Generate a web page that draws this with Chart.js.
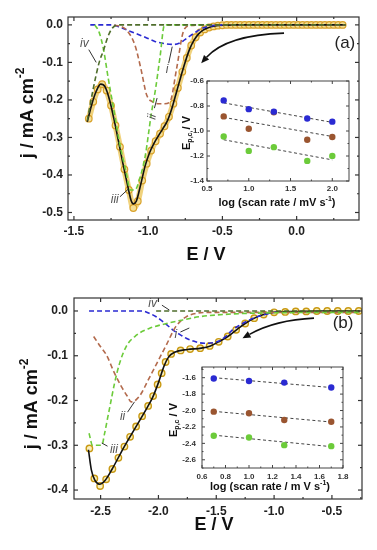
<!DOCTYPE html>
<html><head><meta charset="utf-8">
<script src="https://cdn.jsdelivr.net/npm/chart.js@4.4.1/dist/chart.umd.min.js"></script>
<style>
html,body{margin:0;padding:0;background:#fff;}
#wrap{position:relative;width:377px;height:550px;overflow:hidden;background:#fff;}
#wrap canvas{position:absolute;}
</style></head><body>
<div id="wrap">
<canvas id="ca" width="377" height="275" style="left:0;top:0"></canvas>
<canvas id="cb" width="377" height="275" style="left:0;top:275px"></canvas>
<canvas id="ia" width="195" height="150" style="left:165px;top:70px"></canvas>
<canvas id="ib" width="200" height="145" style="left:160px;top:355px"></canvas>
</div>
<script>
// ---------------- Panel (a) data ----------------
const aFitE = [-1.41,-1.38,-1.35,-1.32,-1.29,-1.26,-1.23,-1.20,-1.17,-1.14,-1.115,-1.10,-1.08,-1.05,-1.02,-0.99,-0.96,-0.93,-0.90,-0.87,-0.84,-0.81,-0.78,-0.75,-0.72,-0.69,-0.66,-0.63,-0.60,-0.55,-0.50,-0.40,0.0,0.33];
const aFitJ = [-0.258,-0.212,-0.177,-0.158,-0.165,-0.200,-0.252,-0.310,-0.370,-0.425,-0.468,-0.477,-0.470,-0.425,-0.375,-0.340,-0.315,-0.295,-0.276,-0.255,-0.222,-0.180,-0.138,-0.098,-0.064,-0.040,-0.024,-0.014,-0.008,-0.003,-0.001,0,0,0];
const aExpE = [-1.40,-1.37,-1.34,-1.31,-1.28,-1.25,-1.22,-1.19,-1.16,-1.13,-1.10,-1.07,-1.04,-1.01,-0.98,-0.95,-0.92,-0.89,-0.86,-0.83,-0.80,-0.77,-0.74,-0.71,-0.68,-0.65,-0.62,-0.59,-0.56,-0.53,-0.50,-0.47,-0.44,-0.41,-0.38,-0.35,-0.32,-0.29,-0.26,-0.23,-0.20,-0.17,-0.14,-0.11,-0.08,-0.05,-0.02,0.01,0.04,0.07,0.10,0.13,0.16,0.19,0.22,0.25,0.28,0.31];
const aExpJ = [-0.250,-0.205,-0.172,-0.158,-0.175,-0.215,-0.268,-0.325,-0.385,-0.440,-0.488,-0.470,-0.415,-0.370,-0.335,-0.310,-0.290,-0.270,-0.245,-0.210,-0.168,-0.125,-0.088,-0.055,-0.033,-0.020,-0.012,-0.007,-0.004,-0.002,-0.001,0,0,0,0,0,0,0,0,0,0,0,0,0,0,0,0,0,0,0,0,0,0,0,0,0,0,0];
const aIE = [-1.39,-1.25,-1.18,-1.09,-1.02,-0.955,-0.89,-0.82,-0.785,-0.755,-0.72,-0.69,-0.64,-0.58,-0.50];
const aIJ = [0,0,-0.008,-0.022,-0.033,-0.044,-0.050,-0.052,-0.048,-0.040,-0.030,-0.022,-0.010,-0.003,0];
const aIIE = [-1.23,-1.15,-1.09,-1.05,-1.01,-0.97,-0.93,-0.89,-0.853,-0.81,-0.763,-0.72,-0.60,0.33];
const aIIJ = [0,-0.012,-0.053,-0.115,-0.187,-0.205,-0.210,-0.210,-0.205,-0.120,-0.018,-0.002,0,0];
const aIIIE = [-1.36,-1.33,-1.30,-1.27,-1.23,-1.19,-1.15,-1.12,-1.09,-1.05,-1.02,-0.98,-0.95,-0.92,-0.89,-0.60];
const aIIIJ = [0,-0.020,-0.067,-0.140,-0.230,-0.320,-0.390,-0.440,-0.440,-0.400,-0.350,-0.240,-0.170,-0.085,0,0];
const aIVE = [-1.41,-1.37,-1.33,-1.30,-1.27,-1.24,-1.20,0.33];
const aIVJ = [-0.255,-0.170,-0.100,-0.067,-0.030,-0.008,0,0];
const aXTicks = [-1.5,-1.0,-0.5,0.0];
const aYTicks = [0.0,-0.1,-0.2,-0.3,-0.4,-0.5];

// ---------------- Panel (b) data ----------------
const bFitE = [-2.605,-2.58,-2.55,-2.51,-2.46,-2.40,-2.30,-2.20,-2.10,-2.05,-2.00,-1.95,-1.91,-1.86,-1.75,-1.63,-1.55,-1.48,-1.40,-1.32,-1.25,-1.17,-1.09,-1.00,-0.80,-0.60,-0.26];
const bFitJ = [-0.310,-0.355,-0.378,-0.387,-0.378,-0.353,-0.305,-0.261,-0.217,-0.193,-0.160,-0.122,-0.102,-0.092,-0.086,-0.083,-0.078,-0.069,-0.057,-0.041,-0.028,-0.016,-0.008,-0.003,-0.001,0,0];
const bExpE = [-2.597,-2.554,-2.504,-2.452,-2.398,-2.346,-2.294,-2.245,-2.193,-2.141,-2.089,-2.046,-2.007,-1.972,-1.938,-1.89,-1.808,-1.726,-1.639,-1.557,-1.479,-1.401,-1.328,-1.25,-1.172,-1.09,-1.0,-0.904,-0.813,-0.722,-0.631,-0.541,-0.45,-0.359,-0.268];
const bExpJ = [-0.307,-0.374,-0.391,-0.376,-0.353,-0.328,-0.303,-0.281,-0.258,-0.235,-0.212,-0.190,-0.164,-0.139,-0.114,-0.096,-0.088,-0.085,-0.083,-0.078,-0.069,-0.057,-0.042,-0.028,-0.016,-0.008,-0.003,-0.002,-0.001,-0.001,0,0,0,0,0];
const bIE = [-2.60,-2.14,-2.08,-2.02,-1.95,-1.877,-1.80,-1.76,-1.70,-1.647,-1.60,-1.56,-1.51,-1.46,-1.41,-1.36,-1.30,-1.244,-1.17,-1.10,-1.02,-0.95];
const bIJ = [0,0,-0.005,-0.013,-0.026,-0.042,-0.055,-0.061,-0.067,-0.071,-0.072,-0.072,-0.070,-0.065,-0.055,-0.042,-0.032,-0.024,-0.015,-0.009,-0.004,0];
const bIIE = [-2.56,-2.50,-2.45,-2.38,-2.32,-2.27,-2.235,-2.20,-2.15,-2.10,-2.05,-2.00,-1.93,-1.85,-1.76,-1.67,-1.55,-0.26];
const bIIJ = [-0.057,-0.080,-0.098,-0.139,-0.169,-0.190,-0.203,-0.200,-0.185,-0.160,-0.135,-0.110,-0.075,-0.035,-0.013,-0.005,-0.003,-0.003];
const bIIIE = [-2.60,-2.57,-2.53,-2.49,-2.465,-2.44,-2.42,-2.38,-2.336,-2.28,-2.19,-2.08,-1.93,-1.79,-1.65,-1.50,-1.30,-1.00,-0.26];
const bIIIJ = [-0.273,-0.300,-0.300,-0.300,-0.273,-0.240,-0.214,-0.162,-0.117,-0.080,-0.054,-0.039,-0.028,-0.020,-0.013,-0.009,-0.006,-0.004,-0.003];
const bIVE = [-2.02,-0.26];
const bIVJ = [0,0];
const bXTicks = [-2.5,-2.0,-1.5,-1.0,-0.5];
const bYTicks = [0.0,-0.1,-0.2,-0.3,-0.4];

// ---------------- Inset (a) data ----------------
const iaLogRate = [0.7,1.0,1.3,1.7,2.0];
const iaBlue  = [-0.755,-0.825,-0.845,-0.900,-0.925];
const iaBrown = [-0.883,-0.982,-0.850,-1.070,-1.048];
const iaGreen = [-1.044,-1.159,-1.129,-1.239,-1.199];
const iaFitX = [0.7,2.0];
const iaBlueFit  = [-0.775,-0.931];
const iaBrownFit = [-0.891,-1.044];
const iaGreenFit = [-1.070,-1.231];
const iaXTicks = [0.5,1.0,1.5,2.0];
const iaYTicks = [-0.6,-0.8,-1.0,-1.2,-1.4];

// ---------------- Inset (b) data ----------------
const ibLogRate = [0.7,1.0,1.3,1.7];
const ibBlue  = [-1.610,-1.640,-1.660,-1.720];
const ibBrown = [-2.014,-2.034,-2.116,-2.137];
const ibGreen = [-2.308,-2.328,-2.422,-2.434];
const ibFitX = [0.7,1.7];
const ibBlueFit  = [-1.600,-1.720];
const ibBrownFit = [-2.010,-2.140];
const ibGreenFit = [-2.300,-2.440];
const ibXTicks = [0.6,0.8,1.0,1.2,1.4,1.6,1.8];
const ibYTicks = [-1.6,-1.8,-2.0,-2.2,-2.4,-2.6];

// ---------------- helpers ----------------
const FONT = "'Liberation Sans', Arial, Helvetica, sans-serif";
const fnt = (style, size) => `${style} ${size}px ${FONT}`;
const pts = (xs, ys) => xs.map((x, i) => ({x: x, y: ys[i]}));
const C_BLUE = '#2a2ad2', C_BROWN = '#b36a4c', C_GREEN = '#6ccb3a', C_OLIVE = '#4f6e2c';

function partFont(p, size) {
  const s = (p.sup || p.sub) ? Math.round(size * 0.68) : size;
  return fnt(p.style || 'bold', s);
}
function drawRich(c, parts, cx, cy, size, rot, color) {
  c.save();
  c.translate(cx, cy); c.rotate(rot || 0);
  c.fillStyle = color || '#111'; c.textBaseline = 'middle'; c.textAlign = 'left';
  let w = 0;
  parts.forEach(p => { c.font = partFont(p, size); w += c.measureText(p.t).width; });
  let x = -w / 2;
  parts.forEach(p => {
    c.font = partFont(p, size);
    const dy = p.sup ? -size * 0.38 : (p.sub ? size * 0.32 : 0);
    c.fillText(p.t, x, dy);
    x += c.measureText(p.t).width;
  });
  c.restore();
}

const DECO = {
  ca: {
    frameColor: '#333', frameWidth: 1.2, tickLen: 4, minorLen: 2,
    titles: [
      {parts: [{t: 'E / V'}], x: 206, y: 255, size: 18, rot: 0},
      {parts: [{t: 'j / mA cm'}, {t: '-2', sup: true}], x: 28, y: 113, size: 18, rot: -Math.PI / 2}
    ],
    labels: [
      {t: 'iv', x: -1.43, y: -0.05}, {t: 'iii', x: -1.225, y: -0.467},
      {t: 'ii', x: -0.972, y: -0.245, rot: -80}, {t: 'i', x: -0.872, y: -0.118}
    ],
    pointers: [[-1.40, -0.066, -1.35, -0.10], [-1.19, -0.458, -1.135, -0.438],
               [-0.958, -0.222, -0.940, -0.195], [-0.862, -0.102, -0.838, -0.058]],
    arrow: {from: [-0.085, -0.022], ctrl: [-0.47, -0.027], to: [-0.643, -0.102]},
    tag: {t: '(a)', x: 0.325, y: -0.048, size: 17}
  },
  cb: {
    frameColor: '#333', frameWidth: 1.2, tickLen: 4, minorLen: 2,
    titles: [
      {parts: [{t: 'E / V'}], x: 214, y: 250, size: 18, rot: 0},
      {parts: [{t: 'j / mA cm'}, {t: '-2', sup: true}], x: 32, y: 129, size: 18, rot: -Math.PI / 2}
    ],
    labels: [
      {t: 'iv', x: -2.05, y: 0.016}, {t: 'i', x: -1.85, y: -0.054},
      {t: 'ii', x: -2.31, y: -0.236}, {t: 'iii', x: -2.385, y: -0.31}
    ],
    pointers: [[-1.97, 0.013, -1.905, 0.002], [-1.81, -0.047, -1.733, -0.038],
               [-2.267, -0.226, -2.207, -0.203], [-2.44, -0.302, -2.49, -0.295]],
    arrow: {from: [-0.655, -0.016], ctrl: [-0.99, -0.02], to: [-1.273, -0.061]},
    tag: {t: '(b)', x: -0.404, y: -0.027, size: 17}
  },
  ia: {
    fill: true, frameColor: '#444', frameWidth: 1, tickLen: 3, minorLen: 1.5,
    titles: [
      {parts: [{t: 'E'}, {t: 'p,c', sub: true}, {t: ' / V'}], x: 22, y: 63, size: 11, rot: -Math.PI / 2},
      {parts: [{t: 'log ('}, {t: 'scan rate / mV s'}, {t: '-1', sup: true}, {t: ')'}], x: 112, y: 133, size: 11, rot: 0}
    ]
  },
  ib: {
    fill: true, frameColor: '#444', frameWidth: 1, tickLen: 3, minorLen: 1.5,
    titles: [
      {parts: [{t: 'E'}, {t: 'p,c', sub: true}, {t: ' / V'}], x: 14, y: 65, size: 11, rot: -Math.PI / 2},
      {parts: [{t: 'log ('}, {t: 'scan rate / m V s'}, {t: '-1', sup: true}, {t: ')'}], x: 110, y: 132, size: 11, rot: 0}
    ]
  }
};

const decoPlugin = {
  id: 'deco',
  beforeDraw(chart) {
    const o = DECO[chart.canvas.id];
    if (!o || !o.fill) return;
    const a = chart.chartArea, c = chart.ctx;
    c.save(); c.fillStyle = '#fff';
    c.fillRect(a.left, a.top, a.right - a.left, a.bottom - a.top);
    c.restore();
  },
  afterDraw(chart) {
    const o = DECO[chart.canvas.id];
    if (!o) return;
    const c = chart.ctx, a = chart.chartArea, xs = chart.scales.x, ys = chart.scales.y;
    const X = v => xs.getPixelForValue(v), Y = v => ys.getPixelForValue(v);
    c.save();
    c.strokeStyle = o.frameColor; c.lineWidth = o.frameWidth;
    c.strokeRect(a.left, a.top, a.right - a.left, a.bottom - a.top);
    const line = (x1, y1, x2, y2) => { c.beginPath(); c.moveTo(x1, y1); c.lineTo(x2, y2); c.stroke(); };
    const drawTicks = (scale, horiz) => {
      const vals = scale.ticks.map(t => t.value);
      const lo = Math.min(scale.min, scale.max), hi = Math.max(scale.min, scale.max);
      const minors = [];
      if (vals.length > 1) {
        const step = vals[1] - vals[0];
        for (let i = -1; i < vals.length; i++) {
          const m = vals[0] + step * (i + 0.5);
          if (m >= lo && m <= hi) minors.push(m);
        }
      }
      const seg = (v, L) => {
        const p = scale.getPixelForValue(v);
        if (horiz) { line(p, a.bottom, p, a.bottom - L); line(p, a.top, p, a.top + L); }
        else { line(a.left, p, a.left + L, p); line(a.right, p, a.right - L, p); }
      };
      vals.forEach(v => seg(v, o.tickLen));
      minors.forEach(v => seg(v, o.minorLen));
    };
    drawTicks(xs, true); drawTicks(ys, false);

    (o.pointers || []).forEach(p => {
      c.strokeStyle = '#333'; c.lineWidth = 1;
      line(X(p[0]), Y(p[1]), X(p[2]), Y(p[3]));
    });
    (o.labels || []).forEach(l => {
      c.save();
      c.translate(X(l.x), Y(l.y)); c.rotate((l.rot || 0) * Math.PI / 180);
      c.font = fnt('italic', 12); c.fillStyle = '#555';
      c.textAlign = 'center'; c.textBaseline = 'middle';
      c.fillText(l.t, 0, 0);
      c.restore();
    });
    if (o.arrow) {
      const f = o.arrow.from, k = o.arrow.ctrl, t = o.arrow.to;
      const fx = X(f[0]), fy = Y(f[1]), kx = X(k[0]), ky = Y(k[1]), tx = X(t[0]), ty = Y(t[1]);
      const ang = Math.atan2(ty - ky, tx - kx);
      const L = 8, W = 3.5;
      const bx = tx - L * Math.cos(ang), by = ty - L * Math.sin(ang);
      c.strokeStyle = '#111'; c.lineWidth = 1.6;
      c.beginPath(); c.moveTo(fx, fy); c.quadraticCurveTo(kx, ky, bx, by); c.stroke();
      c.fillStyle = '#111';
      c.beginPath(); c.moveTo(tx, ty);
      c.lineTo(bx + W * Math.sin(ang), by - W * Math.cos(ang));
      c.lineTo(bx - W * Math.sin(ang), by + W * Math.cos(ang));
      c.closePath(); c.fill();
    }
    if (o.tag) {
      c.font = fnt('normal', o.tag.size); c.fillStyle = '#222';
      c.textAlign = 'center'; c.textBaseline = 'middle';
      c.fillText(o.tag.t, X(o.tag.x), Y(o.tag.y));
    }
    (o.titles || []).forEach(t => drawRich(c, t.parts, t.x, t.y, t.size, t.rot, '#111'));
    c.restore();
  }
};

function makeChart(id, datasets, xr, yr, xTicks, yTicks, pad, yW, xH, tickFont, tickColor, yPad, xPad) {
  return new Chart(document.getElementById(id), {
    type: 'line',
    data: {datasets: datasets},
    options: {
      responsive: false, animation: false, devicePixelRatio: 1,
      layout: {padding: pad},
      plugins: {legend: {display: false}, tooltip: {enabled: false}},
      elements: {line: {cubicInterpolationMode: 'monotone'}},
      scales: {
        x: {
          type: 'linear', min: xr[0], max: xr[1],
          grid: {display: false, drawTicks: false}, border: {display: false},
          afterBuildTicks: s => { s.ticks = xTicks.map(v => ({value: v})); },
          afterFit: s => { s.height = xH; },
          ticks: {padding: xPad, font: tickFont, color: tickColor, maxRotation: 0, autoSkip: false,
                  callback: v => Number(v).toFixed(1)}
        },
        y: {
          type: 'linear', min: yr[0], max: yr[1],
          grid: {display: false, drawTicks: false}, border: {display: false},
          afterBuildTicks: s => { s.ticks = yTicks.map(v => ({value: v})); },
          afterFit: s => { s.width = yW; },
          ticks: {padding: yPad, font: tickFont, color: tickColor, autoSkip: false,
                  callback: v => Number(v).toFixed(1)}
        }
      }
    },
    plugins: [decoPlugin]
  });
}

const dashed = (data, color, order) => ({data: data, borderColor: color, borderWidth: 1.6, borderDash: [5, 3],
  pointRadius: 0, fill: false, order: order === undefined ? 0 : order});

// ---- Panel (a)
makeChart('ca', [
  dashed(pts(aIVE, aIVJ), C_OLIVE), dashed(pts(aIIIE, aIIIJ), C_GREEN),
  dashed(pts(aIIE, aIIJ), C_BROWN), dashed(pts(aIE, aIJ), C_BLUE),
  {data: pts(aFitE, aFitJ), borderColor: '#111', borderWidth: 1.6, pointRadius: 0, fill: false, order: 1},
  {data: pts(aExpE, aExpJ), borderColor: 'rgba(238,205,110,0.9)', borderWidth: 6, pointRadius: 3.3,
   pointBorderColor: '#d9a22a', pointBackgroundColor: '#f4df96', pointBorderWidth: 1.2, fill: false, order: 2}
], [-1.54, 0.42], [-0.52, 0.021], aXTicks, aYTicks, {left: 0, right: 18, top: 17, bottom: 0},
   68, 55, {family: FONT, size: 12, weight: 'bold'}, '#222', 5, 4);

// ---- Panel (b)
makeChart('cb', [
  dashed(pts(bIVE, bIVJ), C_OLIVE), dashed(pts(bIIIE, bIIIJ), C_GREEN),
  dashed(pts(bIIE, bIIJ), C_BROWN), dashed(pts(bIE, bIJ), C_BLUE),
  {data: pts(bFitE, bFitJ), borderColor: '#111', borderWidth: 1.6, pointRadius: 0, fill: false, order: 1},
  {data: pts(bExpE, bExpJ), showLine: false, pointRadius: 3.2, pointBorderColor: '#c99a14',
   pointBackgroundColor: 'rgba(250,236,170,0.8)', pointBorderWidth: 1.4, order: 2}
], [-2.73, -0.24], [-0.42, 0.029], bXTicks, bYTicks, {left: 0, right: 15, top: 23, bottom: 0},
   74, 51, {family: FONT, size: 12, weight: 'bold'}, '#222', 6, 5);

// ---- Insets
const fitLine = (xs, ys) => ({data: pts(xs, ys), borderColor: '#444', borderWidth: 1, borderDash: [3, 2.5],
  pointRadius: 0, fill: false, order: 1});
const dots = (xs, ys, col) => ({data: pts(xs, ys), showLine: false, pointRadius: 3.2,
  pointBackgroundColor: col, pointBorderColor: col, pointBorderWidth: 0, order: 0});

makeChart('ia', [
  dots(iaLogRate, iaBlue, C_BLUE), dots(iaLogRate, iaBrown, '#9a5530'), dots(iaLogRate, iaGreen, C_GREEN),
  fitLine(iaFitX, iaBlueFit), fitLine(iaFitX, iaBrownFit), fitLine(iaFitX, iaGreenFit)
], [0.5, 2.2], [-1.4, -0.6], iaXTicks, iaYTicks, {left: 0, right: 11, top: 11, bottom: 0},
   42, 39, {family: FONT, size: 8, weight: 'bold'}, '#333', 3, 3);

makeChart('ib', [
  dots(ibLogRate, ibBlue, C_BLUE), dots(ibLogRate, ibBrown, '#9a5530'), dots(ibLogRate, ibGreen, C_GREEN),
  fitLine(ibFitX, ibBlueFit), fitLine(ibFitX, ibBrownFit), fitLine(ibFitX, ibGreenFit)
], [0.6, 1.8], [-2.7, -1.47], ibXTicks, ibYTicks, {left: 0, right: 17, top: 12, bottom: 0},
   42, 32, {family: FONT, size: 8, weight: 'bold'}, '#333', 6, 4);
</script>
</body></html>
